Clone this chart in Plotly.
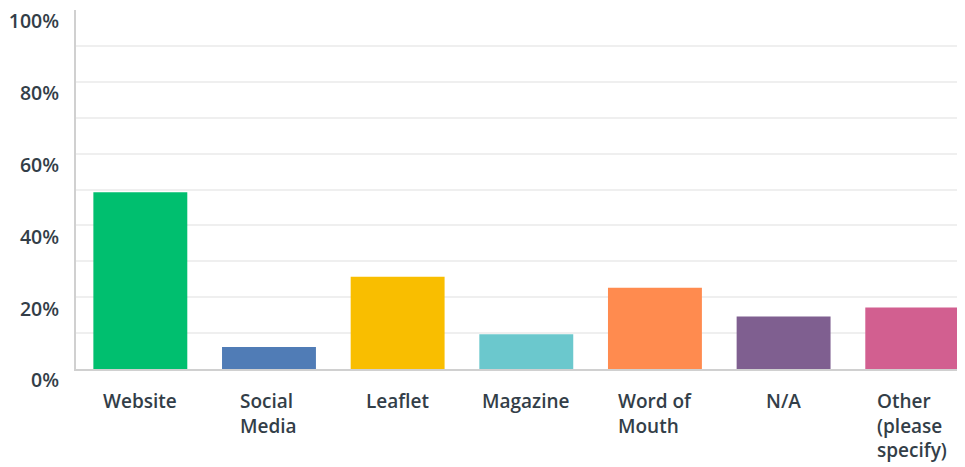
import plotly.graph_objects as go

categories = ["Website", "Social<br>Media", "Leaflet", "Magazine", "Word of<br>Mouth", "N/A", "Other<br>(please<br>specify)"]
values = [49.2, 6.1, 25.7, 9.7, 22.6, 14.6, 17.1]
colors = ["#00BF6F", "#507CB6", "#F9BE00", "#6BC8CD", "#FF8B4F", "#7F5F90", "#D25F90"]
y_tickvals = [0, 20, 40, 60, 80, 100]
y_ticktext = ["0%", "20%", "40%", "60%", "80%", "100%"]

FONT = "Open Sans"
TXT = "#333E48"
FS = 19

fig = go.Figure(go.Bar(
    x=list(range(len(categories))),
    y=values,
    marker=dict(color=colors, line=dict(width=0)),
    width=0.73,
    hoverinfo="skip",
))

for i, c in enumerate(categories):
    fig.add_annotation(
        x=i, y=0, xref="x", yref="paper",
        text=c, showarrow=False, align="left",
        xanchor="center", yanchor="top", yshift=-17,
        font=dict(family=FONT, size=FS, color=TXT, weight=600),
    )

fig.update_layout(
    width=957, height=459,
    margin=dict(l=68, r=0, t=2, b=98, autoexpand=False),
    paper_bgcolor="white", plot_bgcolor="white",
    showlegend=False,
    font=dict(family=FONT, size=FS, color=TXT),
    xaxis=dict(
        range=[-0.5, 6.41], showticklabels=False, showgrid=False,
        zeroline=False, showline=True, linecolor="#D0D0D0", linewidth=2,
        ticks="", fixedrange=True, automargin=False,
    ),
    yaxis=dict(
        range=[0, 100], tickvals=y_tickvals, ticktext=y_ticktext,
        showgrid=True, gridcolor="#EFEFEF", gridwidth=2,
        minor=dict(dtick=10, showgrid=True, gridcolor="#EFEFEF", gridwidth=2),
        zeroline=False, showline=True, linecolor="#D0D0D0", linewidth=2,
        ticks="", ticklabelposition="outside bottom", ticklabelstandoff=11,
        ticklabelshift=-2, ticklabeloverflow="allow",
        tickfont=dict(family=FONT, size=19.5, color=TXT, weight=600),
        automargin=False,
    ),
)

fig.write_html("out.html")
